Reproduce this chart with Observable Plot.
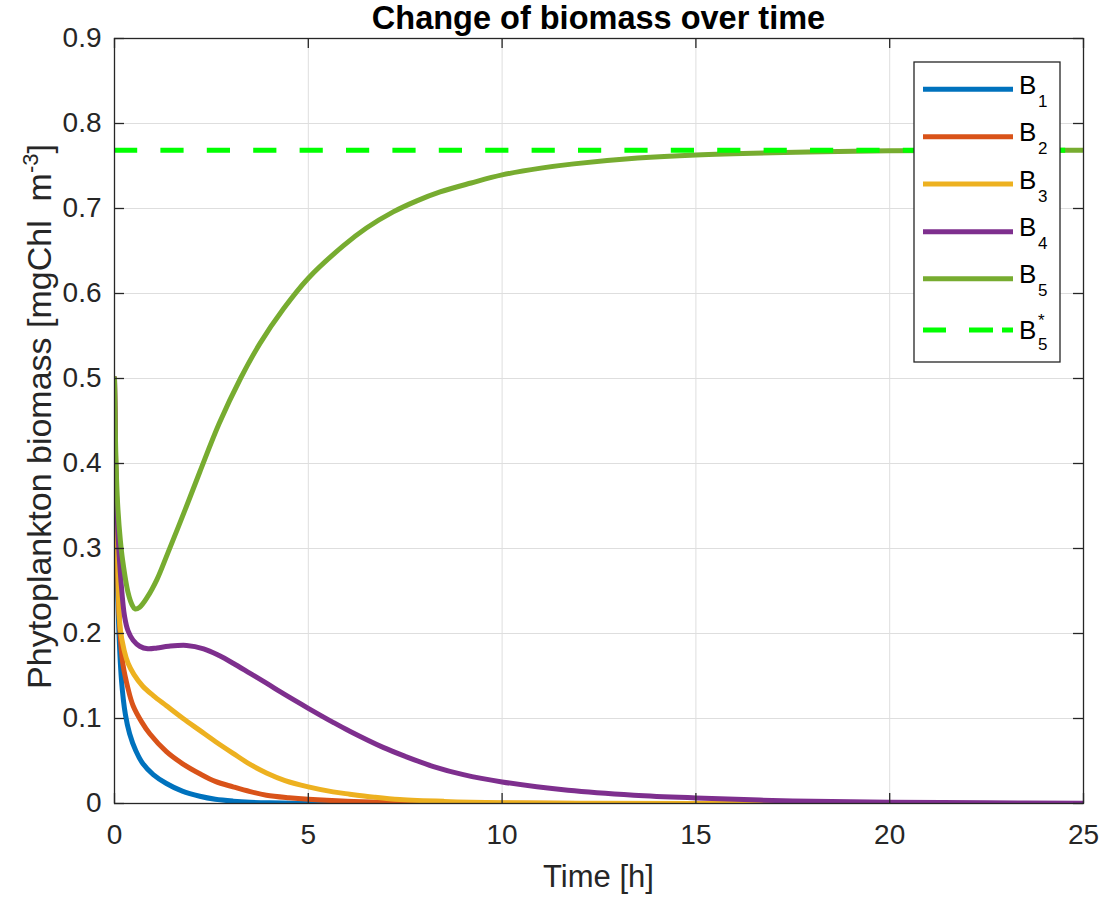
<!DOCTYPE html>
<html>
<head>
<meta charset="utf-8">
<script src="https://cdn.jsdelivr.net/npm/d3@7"></script>
<script src="https://cdn.jsdelivr.net/npm/@observablehq/plot@0.6"></script>
<style>
  html, body { margin: 0; padding: 0; background: #fff; }
  #chart svg { display: block; }
</style>
</head>
<body>
<div id="chart"></div>
<script>
// ---- data ----
const titleText = "Change of biomass over time";
const xLabelText = "Time [h]";
const xTicks = [0, 5, 10, 15, 20, 25];
const yTicks = [0, 0.1, 0.2, 0.3, 0.4, 0.5, 0.6, 0.7, 0.8, 0.9];
const yTickLabels = ["0", "0.1", "0.2", "0.3", "0.4", "0.5", "0.6", "0.7", "0.8", "0.9"];
const seriesNames = ["B1", "B2", "B3", "B4", "B5"];
const seriesSubs = ["1", "2", "3", "4", "5"];
const seriesColors = ["#0072BD", "#D95319", "#EDB120", "#7E2F8E", "#77AC30"];

const b1 = [[0,0.5],[0.02,0.42],[0.05,0.33],[0.1,0.22],[0.18,0.145],[0.28,0.105],[0.39,0.082],[0.55,0.062],[0.73,0.047],[1.0,0.034],[1.34,0.0235],[1.75,0.0145],[2.2,0.0085],[2.6,0.005],[3.06,0.0028],[3.5,0.0015],[4,0.0008],[5,0.0002],[6,0.00005],[25,0]];
const b2 = [[0,0.5],[0.02,0.42],[0.05,0.34],[0.1,0.24],[0.16,0.19],[0.22,0.163],[0.35,0.135],[0.48,0.115],[0.7,0.096],[0.91,0.082],[1.34,0.061],[1.75,0.047],[2.2,0.035],[2.6,0.026],[3.06,0.0196],[3.5,0.014],[3.92,0.0098],[4.5,0.0068],[5,0.005],[6,0.0027],[7,0.0015],[8,0.0008],[10,0.0003],[12,0.0001],[25,0]];
const b3 = [[0,0.5],[0.02,0.43],[0.05,0.35],[0.1,0.25],[0.15,0.205],[0.25,0.18],[0.35,0.165],[0.5,0.152],[0.73,0.138],[1.0,0.127],[1.34,0.115],[1.77,0.1],[2.2,0.086],[2.6,0.073],[3.06,0.059],[3.5,0.046],[3.92,0.036],[4.4,0.027],[5,0.0196],[5.64,0.0137],[6.07,0.011],[6.7,0.0075],[7.36,0.0047],[8.5,0.0025],[10,0.001],[12,0.0004],[15,0.0001],[25,0]];
const b4 = [[0,0.5],[0.03,0.4],[0.09,0.318],[0.17,0.26],[0.26,0.22],[0.35,0.203],[0.48,0.192],[0.65,0.185],[0.86,0.182],[1.1,0.183],[1.4,0.185],[1.86,0.186],[2.3,0.182],[2.7,0.174],[3.06,0.165],[3.5,0.153],[3.92,0.1415],[4.4,0.128],[5,0.112],[5.64,0.0955],[6.07,0.085],[6.93,0.066],[7.5,0.0555],[8.23,0.0435],[9,0.034],[10,0.0254],[11.7,0.0156],[13.4,0.0098],[15,0.0066],[17.5,0.003],[20,0.0015],[22.5,0.0008],[25,0.0004]];
const b5 = [[0,0.5],[0.02,0.44],[0.05,0.385],[0.09,0.345],[0.15,0.31],[0.21,0.286],[0.35,0.248],[0.45,0.234],[0.53,0.229],[0.65,0.231],[0.85,0.243],[1.1,0.264],[1.37,0.294],[1.8,0.343],[2.2,0.39],[2.7,0.447],[3.25,0.5],[3.75,0.541],[4.36,0.582],[5,0.618],[5.9,0.656],[6.5,0.677],[7.19,0.696],[7.8,0.709],[8.4,0.7195],[9.2,0.73],[10,0.7395],[11,0.7475],[11.85,0.7525],[13.5,0.7594],[15,0.763],[17.9,0.7664],[20,0.7678],[22.5,0.7684],[25,0.7686]];
const seriesValues = [b1, b2, b3, b4, b5];
const b5Star = 0.7686;
const starColor = "#00FF00";

// ---- build table ----
const rows = [];
seriesValues.forEach((arr, i) => arr.forEach(([t, v]) => rows.push({t, v, s: seriesNames[i]})));

const W = 1105, H = 898;
const mL = 114, mR = 22, mT = 38, mB = 95;
const plotW = W - mL - mR, plotH = H - mT - mB;
const tickLen = 10;
const ink = "#262626";
const font = "'Liberation Sans', Arial, Helvetica, sans-serif";

const chart = Plot.plot({
  width: W, height: H,
  marginLeft: mL, marginRight: mR, marginTop: mT, marginBottom: mB,
  style: {fontFamily: font, color: ink, background: "#fff", overflow: "visible"},
  x: {domain: [0, 25]},
  y: {domain: [0, 0.9]},
  color: {domain: seriesNames, range: seriesColors},
  marks: [
    Plot.gridX(xTicks, {stroke: "#dedede", strokeOpacity: 1, strokeWidth: 1}),
    Plot.gridY(yTicks, {stroke: "#dedede", strokeOpacity: 1, strokeWidth: 1}),
    Plot.line(rows, {x: "t", y: "v", z: "s", stroke: "s", strokeWidth: 5, curve: "catmull-rom", clip: true, strokeLinejoin: "round"}),
    Plot.ruleY([b5Star], {stroke: starColor, strokeWidth: 5, strokeDasharray: "23.2,23.2", strokeLinecap: "butt"}),
    Plot.frame({stroke: ink, strokeWidth: 1.3}),
    // inward ticks (bottom/top/left/right)
    Plot.ruleX(xTicks, {insetTop: plotH - tickLen, stroke: ink, strokeWidth: 1.3}),
    Plot.ruleX(xTicks, {insetBottom: plotH - tickLen, stroke: ink, strokeWidth: 1.3}),
    Plot.ruleY(yTicks, {insetRight: plotW - tickLen, stroke: ink, strokeWidth: 1.3}),
    Plot.ruleY(yTicks, {insetLeft: plotW - tickLen, stroke: ink, strokeWidth: 1.3}),
    Plot.axisX(xTicks, {tickSize: 0, tickPadding: 21, fontSize: 28, label: null}),
    Plot.axisY(yTicks, {tickSize: 0, tickPadding: 13, fontSize: 28, label: null, tickFormat: (d, i) => yTickLabels[i]})
  ]
});
document.getElementById("chart").appendChild(chart);

const svg = d3.select(chart);
// title
svg.append("text").attr("x", mL + plotW / 2).attr("y", 29)
  .attr("text-anchor", "middle").attr("font-family", font).attr("font-weight", "bold")
  .attr("font-size", 32.5).attr("fill", "#000").text(titleText);
// x label
svg.append("text").attr("x", mL + plotW / 2).attr("y", 887)
  .attr("text-anchor", "middle").attr("font-family", font)
  .attr("font-size", 31).attr("fill", ink).text(xLabelText);
// y label with superscript
const yl = svg.append("text").attr("transform", `translate(51,${mT + plotH / 2 - 4}) rotate(-90)`)
  .attr("text-anchor", "middle").attr("font-family", font)
  .attr("font-size", 34).attr("fill", ink).attr("xml:space", "preserve");
yl.append("tspan").text("Phytoplankton biomass [mgChl  m");
yl.append("tspan").attr("font-size", 22).attr("dy", -13).text("-3");
yl.append("tspan").attr("dy", 13).text("]");

// legend
const lg = svg.append("g").attr("text-anchor", "start");
lg.append("rect").attr("x", 914).attr("y", 62).attr("width", 146).attr("height", 300)
  .attr("fill", "#fff").attr("stroke", ink).attr("stroke-width", 1.3);
const legendY = [89.3, 136.7, 184, 231.7, 278.7];
seriesNames.forEach((n, i) => {
  const y = legendY[i];
  lg.append("line").attr("x1", 923).attr("x2", 1013).attr("y1", y).attr("y2", y)
    .attr("stroke", seriesColors[i]).attr("stroke-width", 5);
  lg.append("text").attr("x", 1019).attr("y", y + 4.5).attr("font-family", font)
    .attr("text-anchor", "start").attr("font-size", 26).attr("fill", "#000").text("B");
  lg.append("text").attr("x", 1038).attr("y", y + 17.5).attr("font-family", font)
    .attr("text-anchor", "start").attr("font-size", 17).attr("fill", "#000").text(seriesSubs[i]);
});
const ys = 330;
lg.append("line").attr("x1", 923).attr("x2", 1013).attr("y1", ys).attr("y2", ys)
  .attr("stroke", starColor).attr("stroke-width", 5).attr("stroke-dasharray", "23 23 24 9 11 100");
lg.append("text").attr("x", 1019).attr("y", ys + 8.5).attr("font-family", font)
  .attr("text-anchor", "start").attr("font-size", 26).attr("fill", "#000").text("B");
lg.append("text").attr("x", 1038).attr("y", ys - 4).attr("font-family", font)
  .attr("text-anchor", "start").attr("font-size", 17).attr("fill", "#000").text("*");
lg.append("text").attr("x", 1038).attr("y", ys + 20).attr("font-family", font)
  .attr("text-anchor", "start").attr("font-size", 17).attr("fill", "#000").text("5");
</script>
</body>
</html>
